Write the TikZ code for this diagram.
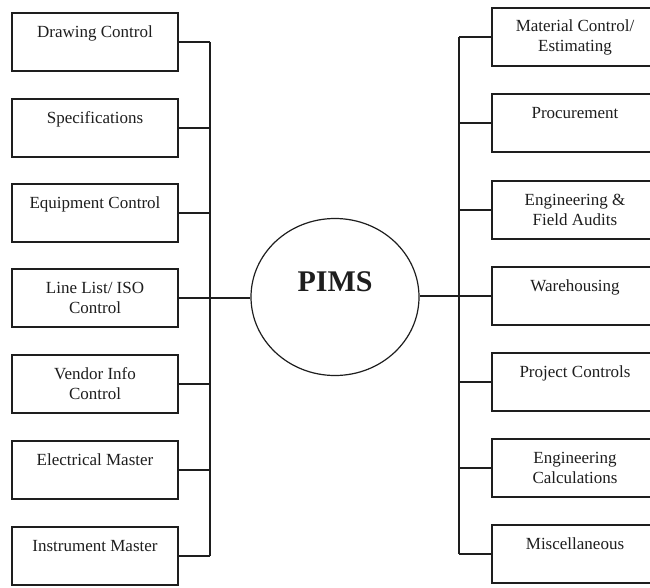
\documentclass[tikz,border=0pt]{standalone}
\usepackage{fontspec}
\setmainfont{Liberation Serif}
\usetikzlibrary{shapes.geometric}
\definecolor{ink}{HTML}{1E1E1E}
\begin{document}
\begin{tikzpicture}[x=1pt,y=-1pt,
  modbox/.style={draw=ink, line width=1.3pt, minimum width=166pt, minimum height=58pt,
    inner sep=0pt, align=center, text=ink,
    font=\fontsize{17}{20}\selectfont},
  hub/.style={draw=ink, line width=1.2pt, ellipse, minimum width=168pt,
    minimum height=157pt, inner sep=0pt},
  wire/.style={draw=ink, line width=1.2pt}]
\useasboundingbox[fill=white] (0,0) rectangle (650,588);

% left column of modules
\node[modbox] (L1) at (95,42)  {Drawing Control\\\mbox{}};
\node[modbox] (L2) at (95,128) {Specifications\\\mbox{}};
\node[modbox] (L3) at (95,213) {Equipment Control\\\mbox{}};
\node[modbox] (L4) at (95,298) {Line List/ ISO\\Control};
\node[modbox] (L5) at (95,384) {Vendor Info\\Control};
\node[modbox] (L6) at (95,470) {Electrical Master\\\mbox{}};
\node[modbox] (L7) at (95,556) {Instrument Master\\\mbox{}};

% right column of modules (runs off the right edge)
\node[modbox] (R1) at (575,37)  {Material Control/\\Estimating};
\node[modbox] (R2) at (575,123) {Procurement\\\mbox{}};
\node[modbox] (R3) at (575,210) {Engineering \&\\Field Audits};
\node[modbox] (R4) at (575,296) {Warehousing\\\mbox{}};
\node[modbox] (R5) at (575,382) {Project Controls\\\mbox{}};
\node[modbox] (R6) at (575,468) {Engineering\\Calculations};
\node[modbox] (R7) at (575,554) {Miscellaneous\\\mbox{}};

% central hub
\node[hub] (pims) at (335,297) {};
\node[text=ink, font=\fontsize{30}{30}\bfseries] (pimslabel) at (335,282) {PIMS};

% bus lines
\coordinate (lbus) at (210,0);
\coordinate (rbus) at (459,0);
\draw[wire] (L1.east -| lbus) -- (L7.east -| lbus);
\draw[wire] (R1.west -| rbus) -- (R7.west -| rbus);
\foreach \i in {1,2,3,5,6,7} {
  \draw[wire] (L\i.east) -- (L\i.east -| lbus);
  \draw[wire] (R\i.west) -- (R\i.west -| rbus);
}
\draw[wire] (L4.east) -- (L4.east -| pims.west);
\draw[wire] (R4.west) -- (R4.west -| pims.east);
\end{tikzpicture}
\end{document}
